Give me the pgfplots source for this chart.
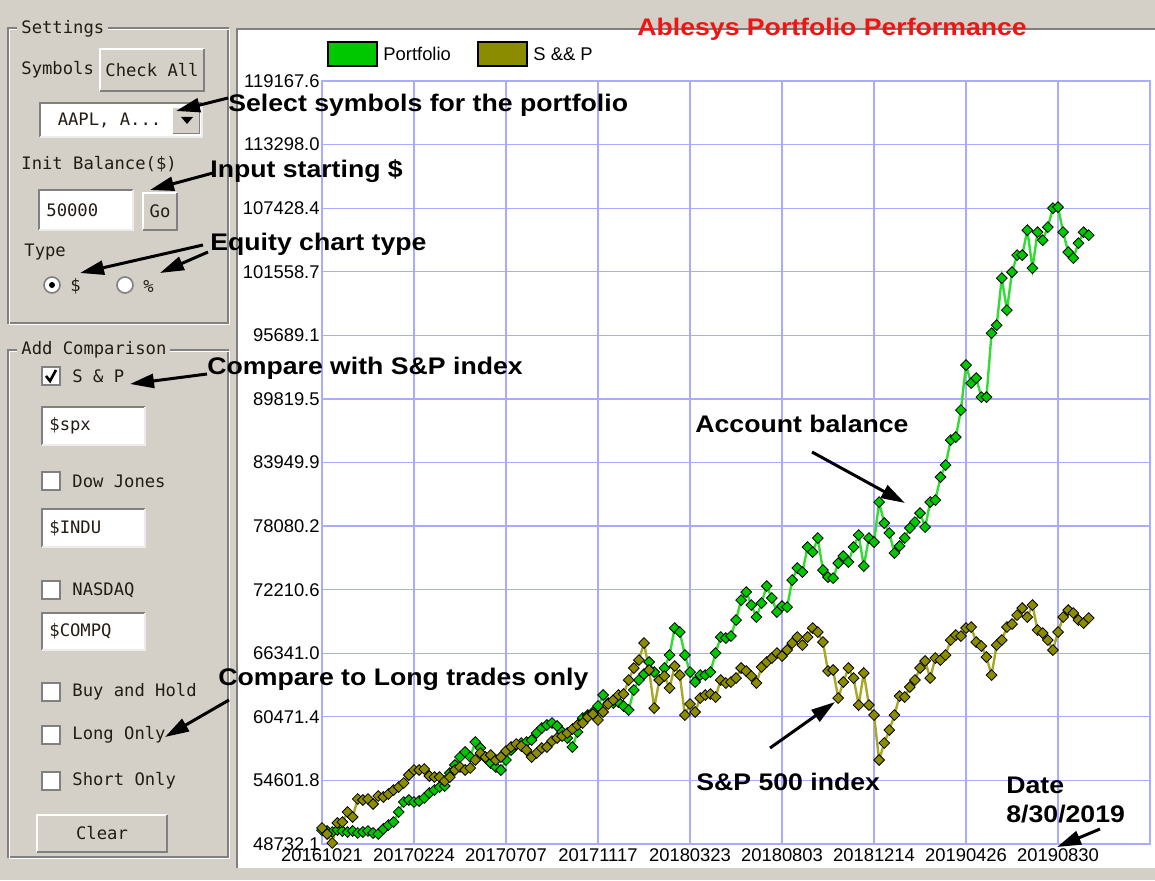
\documentclass[border=0pt]{standalone}
\usepackage{fontspec}
\setmainfont{Liberation Sans}
\newfontfamily\annfont{Liberation Sans}[FakeStretch=1.11,BoldFeatures={FakeStretch=1.11}]
\newfontfamily\uifont{DejaVu Sans Mono}
\usepackage{pgfplots}
\usepackage{pgfplotstable}
\pgfplotsset{compat=1.18}
\usetikzlibrary{arrows.meta}

\definecolor{wingray}{RGB}{212,208,200}
\definecolor{gridc}{RGB}{170,170,255}
\definecolor{pgreen}{RGB}{0,200,0}
\definecolor{pgreenline}{RGB}{50,220,50}
\definecolor{polive}{RGB}{140,140,0}
\definecolor{poliveline}{RGB}{168,168,40}
\definecolor{titlered}{RGB}{240,20,20}
\definecolor{uitext}{RGB}{35,28,20}
\definecolor{darkedge}{RGB}{128,128,128}

\pgfplotstableread{
x y
0 50000
1 49932
2 49839
3 50024
4 49932
5 49839
6 49932
7 49747
8 49839
9 49932
10 49747
11 49655
12 50116
13 50486
14 50762
15 51685
16 52608
17 52793
18 52608
19 52700
20 52977
21 53439
22 53716
23 53993
24 54085
25 55285
26 56023
27 56761
28 57223
29 56761
30 58146
31 57592
32 56669
33 56207
34 55838
35 55561
36 56484
37 57407
38 57869
39 58053
40 58146
41 58330
42 58976
43 59438
44 59715
45 59899
46 59622
47 59068
48 58515
49 57684
50 59068
51 60361
52 60637
53 60914
54 61468
55 62483
56 61745
57 61745
58 61837
59 61468
60 61099
61 62945
62 63868
63 64421
64 65529
65 64606
66 63868
67 64975
68 66175
69 68667
70 68297
71 66175
72 64606
73 63683
74 64329
75 64329
76 64606
77 66359
78 67836
79 67744
80 67928
81 69405
82 71251
83 71989
84 70789
85 69682
86 70974
87 72543
88 71435
89 70143
90 70697
91 70605
92 73097
93 74204
94 73835
95 76142
96 75681
97 76973
98 74019
99 73373
100 73281
101 74665
102 75312
103 74758
104 76142
105 77250
106 74389
107 76973
108 76604
109 80295
110 78357
111 77434
112 75588
113 76234
114 76973
115 77896
116 78449
117 79280
118 77988
119 80295
120 80480
121 82602
122 83710
123 86017
124 86294
125 88786
126 92939
127 91278
128 91739
129 89986
130 89986
131 95892
132 96631
133 100968
134 98015
135 101522
136 103091
137 103091
138 105398
139 101891
140 105213
141 104475
142 105675
143 107428
144 107521
145 105213
146 103368
147 102814
148 104198
149 105213
150 104937
}\portfolio

\pgfplotstableread{
x y
0 50209
1 49655
2 48824
3 50670
4 50762
5 51685
6 51224
7 52885
8 52793
9 52885
10 52424
11 53162
12 53070
13 53347
14 53716
15 53993
16 54362
17 55100
18 55561
19 55561
20 55654
21 55008
22 54915
23 54915
24 54546
25 54915
26 55561
27 55838
28 55561
29 55746
30 56484
31 57130
32 56761
33 56946
34 56484
35 56761
36 57315
37 57684
38 57961
39 57776
40 57407
41 56761
42 57130
43 57592
44 57684
45 58238
46 58515
47 58699
48 58976
49 59345
50 59715
51 59899
52 60453
53 60730
54 60176
55 60914
56 61653
57 62022
58 62483
59 62576
60 63868
61 64975
62 65713
63 67282
64 64790
65 61283
66 63868
67 64237
68 63129
69 65160
70 64329
71 60637
72 61653
73 60914
74 62206
75 62483
76 62576
77 62299
78 63868
79 63591
80 63683
81 64052
82 64975
83 64698
84 64237
85 63591
86 65067
87 65529
88 65898
89 66359
90 66083
91 66636
92 67282
93 67836
94 67098
95 67836
96 68667
97 68297
98 67375
99 64698
100 64790
101 62206
102 63683
103 64975
104 64052
105 61560
106 64514
107 61560
108 60637
109 56484
110 58053
111 59253
112 60637
113 62391
114 62299
115 63222
116 63868
117 64975
118 65621
119 64052
120 65898
121 65713
122 66175
123 67559
124 68021
125 67928
126 68667
127 68759
128 67375
129 67005
130 65990
131 64329
132 67098
133 67559
134 68759
135 69036
136 69866
137 70512
138 69682
139 70789
140 68482
141 68205
142 67559
143 66636
144 68297
145 69682
146 70328
147 70051
148 69405
149 69128
150 69590
}\spindex

\tikzset{
  ui/.style={font=\uifont\fontsize{8.6}{10}\selectfont, text=uitext, inner sep=0pt},
  ann/.style={font=\annfont\bfseries\fontsize{12}{14}\selectfont, text=black, inner sep=0pt, anchor=base west},
  annarrow/.style={line width=1.5pt, -{Triangle[length=12pt,width=7pt]}}
}
\newcommand{\uibutton}[5]{%
  \fill[wingray] (#1,#2) rectangle (#3,#4);
  \draw[white, line width=1pt] (#1,#4) -- (#1,#2) -- (#3,#2);
  \draw[darkedge, line width=1pt] (#1,#4) -- (#3,#4) -- (#3,#2);
  \node[ui] at ({(#1+#3)/2},{(#2+#4)/2}) {#5};}
\newcommand{\uitextbox}[5]{%
  \fill[white] (#1,#2) rectangle (#3,#4);
  \draw[darkedge, line width=1pt] (#1,#4) -- (#1,#2) -- (#3,#2);
  \draw[white!85!gray, line width=1pt] (#1,#4) -- (#3,#4) -- (#3,#2);
  \node[ui, anchor=west] at ({#1+7},{(#2+#4)/2}) {#5};}
\newcommand{\uicheck}[3]{%
  \draw[darkedge, fill=white, line width=0.8pt] (42,{#1-9}) rectangle (60,{#1+9});
  \node[ui, anchor=west] at (72,#1) {#2};
  #3}

\begin{document}
\begin{tikzpicture}[x=0.5pt,y=0.5pt]
\useasboundingbox (0,0) rectangle (1155,880);
\fill[wingray] (0,0) rectangle (1155,880);
\begin{scope}[yshift=440pt, y=-0.5pt]
  % white chart panel
  \fill[white] (237,29) rectangle (1155,868);
  \draw[darkedge, line width=1pt] (237,868) -- (237,29) -- (1155,29);
  % Settings group
  \draw[darkedge, line width=0.8pt] (8,28) rectangle (228,323);
  \draw[white, line width=0.8pt] (9.5,29.5) rectangle (229.5,324.5);
  \node[ui, fill=wingray, inner xsep=2pt, anchor=west] at (17,29) {Settings};
  \node[ui, anchor=west] at (21,70) {Symbols};
  \uibutton{100}{49}{204}{91}{Check All}
  \uitextbox{40}{103}{202}{137}{\ AAPL, A...}
  \fill[wingray] (173,108) rectangle (199,133);
  \draw[darkedge] (173,133) -- (199,133) -- (199,108);
  \fill[black] (181,117) -- (193,117) -- (187,124) -- cycle;
  \node[ui, anchor=west] at (21,164) {Init Balance(\$)};
  \uitextbox{39}{190}{133}{230}{50000}
  \uibutton{143}{193}{177}{230}{Go}
  \node[ui, anchor=west] at (24,252) {Type};
  \draw[darkedge, fill=white, line width=0.8pt] (52,285) circle [radius=8];
  \fill[black] (52,285) circle [radius=3];
  \node[ui, anchor=west] at (70,286) {\$};
  \draw[darkedge, fill=white, line width=0.8pt] (125,285) circle [radius=8];
  \node[ui, anchor=west] at (143,286) {\%};
  % Add Comparison group
  \draw[darkedge, line width=0.8pt] (8,350) rectangle (228,857);
  \draw[white, line width=0.8pt] (9.5,351.5) rectangle (229.5,858.5);
  \node[ui, fill=wingray, inner xsep=2pt, anchor=west] at (17,350) {Add Comparison};
  \uicheck{376}{S \& P}{\draw[black, line width=1.3pt] (46,376) -- (50,381) -- (56,370);}
  \uitextbox{42}{407}{145}{445}{\$spx}
  \uicheck{481}{Dow Jones}{}
  \uitextbox{42}{509}{145}{547}{\$INDU}
  \uicheck{590}{NASDAQ}{}
  \uitextbox{42}{613}{145}{650}{\$COMPQ}
  \uicheck{692}{Buy and Hold}{}
  \uicheck{735}{Long Only}{}
  \uicheck{781}{Short Only}{}
  \uibutton{37}{815}{167}{852}{Clear}
  % legend
  \draw[black, fill=pgreen, line width=0.8pt] (328,42) rectangle (377,66);
  \node[anchor=west, inner sep=0, font=\fontsize{9.2}{10}\selectfont] at (383,54) {Portfolio};
  \draw[black, fill=polive, line width=0.8pt] (478,42) rectangle (527,66);
  \node[anchor=west, inner sep=0, font=\fontsize{9.2}{10}\selectfont] at (533,54) {S \&\& P};
\end{scope}

\begin{axis}[
  at={(161pt,18pt)}, anchor=south west,
  scale only axis, width=414pt, height=381.5pt,
  xmin=0, xmax=162, ymin=48732.1, ymax=119167.6,
  xtick={0,18,36,54,72,90,108,126,144,162},
  xticklabels={20161021,20170224,20170707,20171117,20180323,20180803,20181214,20190426,20190830,{}},
  ytick={48732.1,54601.8,60471.4,66341.0,72210.6,78080.2,83949.9,89819.5,95689.1,101558.7,107428.4,113298.0,119167.6},
  yticklabels={48732.1,54601.8,60471.4,66341.0,72210.6,78080.2,83949.9,89819.5,95689.1,101558.7,107428.4,113298.0,119167.6},
  scaled y ticks=false,
  grid=major, major grid style={gridc, line width=0.6pt},
  axis line style={gridc, line width=0.6pt},
  major tick length=0pt,
  tick label style={font=\fontsize{9.2}{10}\selectfont, text=black},
  yticklabel style={inner sep=1pt},
  xticklabel style={inner sep=1pt, yshift=-1pt},
  clip=false,
]
\addplot[pgreenline, line width=1.2pt, mark=square*, mark size=1.9pt,
  mark options={rotate=45, fill=pgreen, draw=black, line width=0.4pt, solid}]
  table[x=x, y=y] {\portfolio};
\addplot[poliveline, line width=1.2pt, mark=square*, mark size=1.9pt,
  mark options={rotate=45, fill=polive, draw=black, line width=0.4pt, solid}]
  table[x=x, y=y] {\spindex};
\end{axis}

\begin{scope}[yshift=440pt, y=-0.5pt]
  \node[ann, text=titlered] at (637,36) {Ablesys Portfolio Performance};
  \node[ann] at (228,112) {Select symbols for the portfolio};
  \draw[annarrow] (228,98) -- (176,111);
  \node[ann] at (210,178) {Input starting \$};
  \draw[annarrow] (213,173) -- (150,190);
  \node[ann] at (210,250) {Equity chart type};
  \draw[annarrow] (203,245) -- (80,273);
  \draw[annarrow] (208,252) -- (160,273);
  \node[ann] at (207,374) {Compare with S\&P index};
  \draw[annarrow] (207,374) -- (130,384);
  \node[ann] at (695,432) {Account balance};
  \draw[annarrow] (812,452) -- (905,503);
  \node[ann] at (218,685) {Compare to Long trades only};
  \draw[annarrow] (229,700) -- (165,737);
  \node[ann] at (696,790) {S\&P 500 index};
  \draw[annarrow] (770,748) -- (835,702);
  \node[ann] at (1006,793) {Date};
  \node[ann] at (1006,822) {8/30/2019};
  \draw[annarrow] (1100,829) -- (1057,847);
\end{scope}
\end{tikzpicture}
\end{document}
